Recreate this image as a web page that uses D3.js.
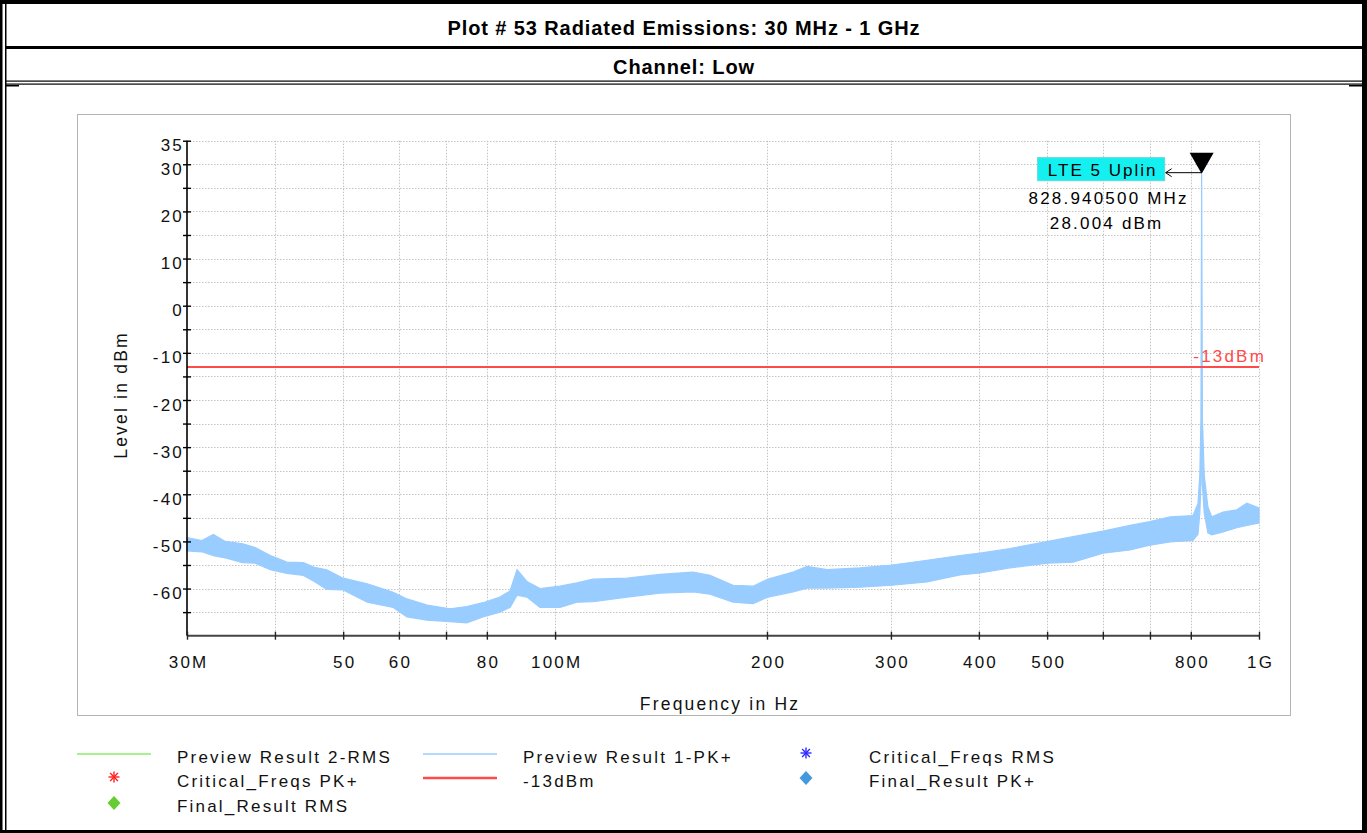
<!DOCTYPE html>
<html>
<head>
<meta charset="utf-8">
<script src="https://cdn.jsdelivr.net/npm/d3@7"></script>
<style>
  html, body { margin: 0; padding: 0; background: #fff; }
  svg { display: block; }
  text { font-family: "Liberation Sans", Arial, sans-serif; }
</style>
</head>
<body>
<svg id="chart" width="1367" height="833"></svg>
<script>
// ---------------- data ----------------
const titleText = "Plot # 53 Radiated Emissions: 30 MHz - 1 GHz";
const subtitleText = "Channel: Low";

// Preview Result 1-PK+ trace (frequency in MHz, upper / lower edge of noise band in dBm)
const traceFreqMHz = [30.0, 31.5, 32.7, 34.0, 36.0, 37.5, 39.4, 41.6, 43.9, 45.5, 47.4, 50.0, 54.1, 58.9, 61.6, 65.8, 70.9, 74.9, 79.0, 83.5, 86.3, 88.3, 91.2, 95.2, 101.6, 107.4, 113.2, 126.6, 140.9, 157.0, 166.0, 179.0, 191.1, 200.7, 217.8, 228.0, 243.4, 271.2, 301.0, 337.6, 376.1, 401.5, 442.9, 501.5, 544.3, 600.4, 655.8, 700.0, 747.5, 805.8, 819.0, 824.0, 827.0, 828.9405, 831.0, 836.0, 846.0, 857.0, 889.0, 930.0, 961.0, 1000.0];
const traceHi = [-49.2, -49.8, -48.5, -50.0, -50.5, -51.3, -53.0, -54.4, -54.5, -55.5, -56.0, -57.8, -59.0, -60.8, -62.2, -63.5, -64.3, -63.8, -63.0, -61.8, -60.5, -56.0, -58.5, -60.0, -59.5, -58.8, -58.0, -57.8, -57.0, -56.5, -57.2, -59.3, -59.5, -58.0, -56.5, -55.3, -56.0, -55.6, -55.0, -54.0, -53.0, -52.5, -51.5, -50.0, -49.0, -47.8, -46.6, -45.8, -44.8, -44.5, -42.0, -36.0, -24.0, 28.004, -24.0, -36.0, -42.7, -44.8, -43.8, -43.3, -41.9, -42.9];
const traceLo = [-52.0, -52.2, -53.0, -53.5, -54.5, -54.6, -56.0, -56.8, -57.2, -58.5, -60.2, -60.3, -62.9, -64.0, -66.0, -66.7, -67.0, -67.3, -66.0, -65.0, -64.0, -61.4, -61.8, -64.0, -64.0, -62.9, -62.8, -61.8, -61.0, -60.7, -61.2, -62.9, -63.2, -61.8, -60.7, -59.9, -59.9, -59.7, -59.3, -58.6, -57.1, -56.7, -55.6, -54.6, -54.4, -52.5, -51.8, -50.8, -50.1, -49.8, -48.5, -44.0, -38.0, -23.0, -38.0, -44.0, -48.2, -48.6, -48.0, -47.1, -46.6, -46.1];

const limitValue = -13;
const limitLabel = "-13dBm";

const markerFreqMHz = 828.9405;
const markerLevel = 28.004;
const markerName = "LTE 5 Uplin";
const markerFreqText = "828.940500 MHz";
const markerLevelText = "28.004 dBm";

const yDomain = [-70, 35];
const yTickValues = [35, 30, 25, 20, 15, 10, 5, 0, -5, -10, -15, -20, -25, -30, -35, -40, -45, -50, -55, -60, -65];
const yTickLabels = [35, 30, 20, 10, 0, -10, -20, -30, -40, -50, -60];

const xDomainMHz = [30, 1000];
const xTickValues = [30, 40, 50, 60, 70, 80, 100, 200, 300, 400, 500, 600, 700, 800, 1000];
const xLabelValues = [30, 50, 60, 80, 100, 200, 300, 400, 500, 800, 1000];
const xLabelTexts = ["30M", "50", "60", "80", "100M", "200", "300", "400", "500", "800", "1G"];

const xAxisTitle = "Frequency in Hz";
const yAxisTitle = "Level in dBm";

const legendItems = [
  { label: "Preview Result 2-RMS", kind: "line", color: "#88ee66", col: 0, row: 0 },
  { label: "Critical_Freqs PK+", kind: "star", color: "#ff2020", col: 0, row: 1 },
  { label: "Final_Result RMS", kind: "diamond", color: "#66cc33", col: 0, row: 2 },
  { label: "Preview Result 1-PK+", kind: "line", color: "#99ccff", col: 1, row: 0 },
  { label: "-13dBm", kind: "line2", color: "#ff4a4a", col: 1, row: 1 },
  { label: "Critical_Freqs RMS", kind: "star", color: "#2a2aff", col: 2, row: 0 },
  { label: "Final_Result PK+", kind: "diamond", color: "#4499dd", col: 2, row: 1 }
];

// ---------------- drawing ----------------
const svg = d3.select("#chart");
const W = 1367, H = 833;
const LS = 2.2; // letter spacing of the regular texts

// frame
const frame = svg.append("g");
frame.append("rect").attr("x", 0).attr("y", 0).attr("width", W).attr("height", H).attr("fill", "#fff");
frame.append("rect").attr("x", 0).attr("y", 0).attr("width", 2.5).attr("height", H).attr("fill", "#000");
frame.append("rect").attr("x", 5).attr("y", 0).attr("width", 1.5).attr("height", H).attr("fill", "#000");
frame.append("rect").attr("x", 1362).attr("y", 0).attr("width", 5).attr("height", H).attr("fill", "#000");
frame.append("rect").attr("x", 0).attr("y", 0).attr("width", W).attr("height", 4).attr("fill", "#000");
frame.append("rect").attr("x", 0).attr("y", 830).attr("width", W).attr("height", 3).attr("fill", "#000");
frame.append("rect").attr("x", 5).attr("y", 46).attr("width", 1358).attr("height", 3).attr("fill", "#000");
frame.append("rect").attr("x", 5).attr("y", 80.5).attr("width", 1358).attr("height", 1.2).attr("fill", "#000");
frame.append("rect").attr("x", 5).attr("y", 83.5).attr("width", 1358).attr("height", 1.2).attr("fill", "#000");
frame.append("rect").attr("x", 6).attr("y", 85).attr("width", 13).attr("height", 1.5).attr("fill", "#000");
frame.append("rect").attr("x", 1349).attr("y", 85).attr("width", 13).attr("height", 1.5).attr("fill", "#000");

svg.append("text").attr("x", 684).attr("y", 35).attr("text-anchor", "middle")
  .attr("font-size", 20).attr("font-weight", "bold").attr("letter-spacing", 0.9).attr("fill", "#000").text(titleText);
svg.append("text").attr("x", 684).attr("y", 74).attr("text-anchor", "middle")
  .attr("font-size", 20).attr("font-weight", "bold").attr("letter-spacing", 0.9).attr("fill", "#000").text(subtitleText);

// chart panel border
svg.append("rect").attr("x", 77.5).attr("y", 114.5).attr("width", 1213).attr("height", 601)
  .attr("fill", "none").attr("stroke", "#b4b4b4").attr("stroke-width", 1);

// scales
const x = d3.scaleLog().domain(xDomainMHz).range([187, 1259]);
const y = d3.scaleLinear().domain(yDomain).range([635.7, 140.7]);

// grid
const grid = svg.append("g").attr("stroke", "#c4c4c4").attr("stroke-width", 1).attr("stroke-dasharray", "1.5,1.5");
grid.selectAll("line.v").data(xTickValues.filter(d => d !== 30)).join("line")
  .attr("x1", d => Math.round(x(d)) + 0.5).attr("x2", d => Math.round(x(d)) + 0.5)
  .attr("y1", y(35)).attr("y2", y(-70));
grid.selectAll("line.h").data(yTickValues).join("line")
  .attr("x1", 187).attr("x2", 1259)
  .attr("y1", d => Math.round(y(d)) + 0.5).attr("y2", d => Math.round(y(d)) + 0.5);

// trace band
const area = d3.area()
  .x((d, i) => x(traceFreqMHz[i]))
  .y0((d, i) => y(traceLo[i]))
  .y1((d, i) => y(traceHi[i]));
svg.append("path").datum(traceFreqMHz).attr("d", area)
  .attr("fill", "#99ccff").attr("stroke", "#99ccff").attr("stroke-width", 1.2).attr("stroke-linejoin", "miter");

// limit line
svg.append("line").attr("x1", x(xDomainMHz[0])).attr("x2", x(xDomainMHz[1]))
  .attr("y1", y(limitValue)).attr("y2", y(limitValue))
  .attr("stroke", "#ff4a4a").attr("stroke-width", 2.2);
svg.append("text").attr("x", 1266).attr("y", y(limitValue) - 5).attr("text-anchor", "end")
  .attr("font-size", 17).attr("letter-spacing", LS).attr("fill", "#ff4a4a").text(limitLabel);

// axes
const yAxis = d3.axisLeft(y).tickValues(yTickValues).tickSize(4)
  .tickFormat(d => yTickLabels.includes(d) ? String(d) : "");
const gy = svg.append("g").attr("transform", "translate(187,0)").call(yAxis);
gy.select(".domain").attr("stroke", "#000").attr("stroke-width", 1.6).attr("d", `M0,${y(35)}V${y(-70)}`);
gy.selectAll(".tick line").attr("x1", 4).attr("x2", -4).attr("stroke", "#000").attr("stroke-width", 1.4);
gy.selectAll(".tick text").attr("x", -3).attr("dy", "0.95em").attr("y", -6)
  .attr("font-size", 17).attr("letter-spacing", LS).attr("fill", "#111")
  .style("font-family", '"Liberation Sans", Arial, sans-serif');

const xAxis = d3.axisBottom(x).tickValues(xTickValues).tickSize(4)
  .tickFormat(d => { const i = xLabelValues.indexOf(d); return i >= 0 ? xLabelTexts[i] : ""; });
const gx = svg.append("g").attr("transform", "translate(0,635.7)").call(xAxis);
gx.select(".domain").attr("stroke", "#444").attr("stroke-width", 2).attr("d", `M187,0H1259`);
gx.selectAll(".tick line").attr("y1", -4).attr("y2", 4).attr("stroke", "#222").attr("stroke-width", 1.4);
gx.selectAll(".tick text").attr("y", 20).attr("dy", "0.71em").attr("dx", LS / 2)
  .attr("font-size", 17).attr("letter-spacing", LS).attr("fill", "#111")
  .style("font-family", '"Liberation Sans", Arial, sans-serif');

svg.append("text").attr("x", 720).attr("y", 710).attr("text-anchor", "middle")
  .attr("font-size", 17.5).attr("letter-spacing", LS).attr("fill", "#111").text(xAxisTitle);
svg.append("text").attr("transform", "translate(127,395) rotate(-90)").attr("text-anchor", "middle")
  .attr("font-size", 17.5).attr("letter-spacing", LS).attr("fill", "#111").text(yAxisTitle);

// marker
const mx = x(markerFreqMHz), my = y(markerLevel);
svg.append("path").attr("d", `M${mx - 12},${my - 21}L${mx + 12},${my - 21}L${mx},${my}Z`).attr("fill", "#000");
svg.append("line").attr("x1", mx).attr("x2", mx - 36).attr("y1", my - 1).attr("y2", my - 1).attr("stroke", "#000").attr("stroke-width", 1);
svg.append("path").attr("d", `M${mx - 30},${my - 5}L${mx - 36},${my - 1}L${mx - 30},${my + 3}`).attr("fill", "none").attr("stroke", "#000").attr("stroke-width", 1);
svg.append("rect").attr("x", mx - 164).attr("y", my - 16).attr("width", 127).attr("height", 23)
  .attr("fill", "#14f0f0").attr("stroke", "#5fd8d8").attr("stroke-width", 1);
svg.append("text").attr("x", mx - 99).attr("y", my + 2).attr("text-anchor", "middle")
  .attr("font-size", 17).attr("letter-spacing", 2).attr("fill", "#000").text(markerName);
svg.append("text").attr("x", mx - 93).attr("y", my + 30).attr("text-anchor", "middle")
  .attr("font-size", 17).attr("letter-spacing", LS).attr("fill", "#000").text(markerFreqText);
svg.append("text").attr("x", mx - 95).attr("y", my + 55).attr("text-anchor", "middle")
  .attr("font-size", 17).attr("letter-spacing", LS).attr("fill", "#000").text(markerLevelText);

// legend
const colSym = [114, 460, 806];
const colText = [177, 523, 869];
const rowY = [754, 778, 803];
const lg = svg.append("g");
legendItems.forEach(it => {
  const cx = colSym[it.col], cy = rowY[it.row];
  if (it.kind === "line" || it.kind === "line2") {
    lg.append("line").attr("x1", cx - 37).attr("x2", cx + 37).attr("y1", cy).attr("y2", cy)
      .attr("stroke", it.color).attr("stroke-width", it.kind === "line2" ? 2.5 : 1.5);
  } else if (it.kind === "star") {
    const g = lg.append("g").attr("stroke", it.color).attr("stroke-width", 1.4);
    [0, 45, 90, 135].forEach(a => {
      const r = 5.5, t = a * Math.PI / 180;
      g.append("line").attr("x1", cx - r * Math.cos(t)).attr("y1", cy - 1 - r * Math.sin(t))
        .attr("x2", cx + r * Math.cos(t)).attr("y2", cy - 1 + r * Math.sin(t));
    });
  } else if (it.kind === "diamond") {
    lg.append("path").attr("d", `M${cx},${cy - 7}L${cx + 6.5},${cy}L${cx},${cy + 7}L${cx - 6.5},${cy}Z`).attr("fill", it.color);
  }
  lg.append("text").attr("x", colText[it.col]).attr("y", cy + 9)
    .attr("font-size", 17).attr("letter-spacing", LS).attr("fill", "#111").text(it.label);
});
</script>
</body>
</html>
